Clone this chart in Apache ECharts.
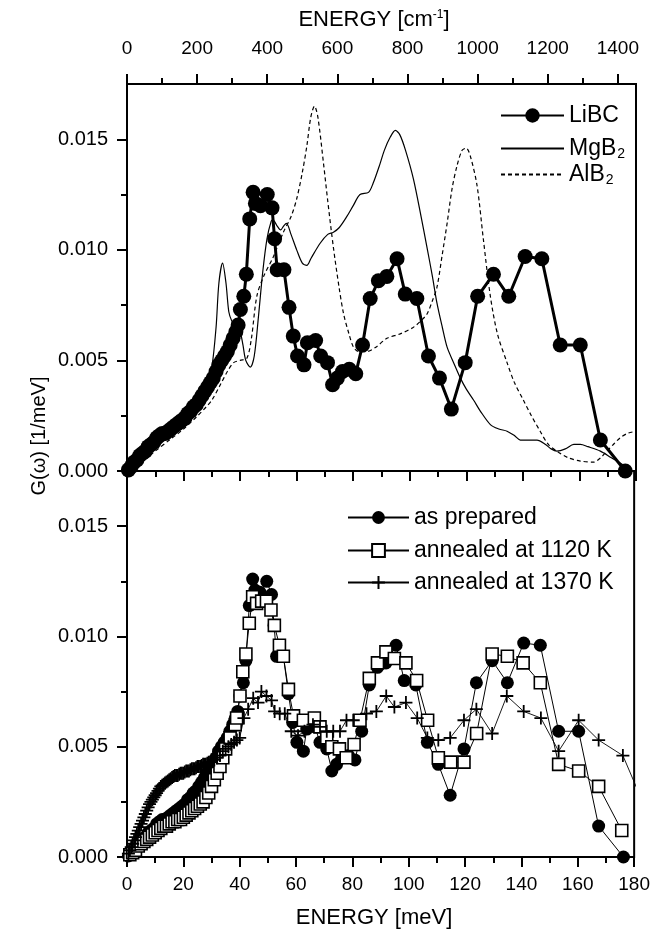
<!DOCTYPE html>
<html><head><meta charset="utf-8">
<script src="https://cdn.jsdelivr.net/npm/echarts@6/dist/echarts.min.js"></script>
<style>html,body{margin:0;padding:0;background:#fff}#c{width:653px;height:931px}</style>
</head><body><div id="c"></div>
<script>
// ---------- data ----------
const libcE = [0.5,1.5,2.5,3.5,4.5,5.5,6.5,7.5,8.5,9.5,10.5,11.5,12.5,13.5,14.5,15.5,16.5,17.5,18.5,19.5,20.5,21.5,22.5,23.5,24.5,25.5,26.5,27.5,28.5,29.5,30.5,31.5,32.5,33.5,34.5,35.5,36.5,37.5,38.5,39.3,40.1,41.3,42.2,43.4,44.6,45.4,47.2,49.6,51.3,52.2,53.1,55.5,57.3,58.8,60.3,62.6,63.8,66.7,68.5,70.9,72.7,74.4,76.2,78.6,80.9,83.3,86.0,88.9,91.9,95.5,98.4,102.5,106.6,110.5,114.7,119.6,124.0,129.6,135.0,140.8,146.7,153.2,160.3,167.4,176.2];
const libcG = [0.00005,0.0002,0.0004,0.0005,0.0007,0.0008,0.0009,0.0011,0.0012,0.0013,0.0015,0.0016,0.0017,0.0017,0.0018,0.0019,0.0020,0.0021,0.0022,0.0023,0.0024,0.0026,0.0027,0.0029,0.0030,0.0032,0.0034,0.0036,0.0038,0.0040,0.0042,0.0045,0.0048,0.0050,0.0052,0.0054,0.0057,0.0060,0.0063,0.0066,0.0073,0.0079,0.0089,0.0114,0.0126,0.0121,0.0120,0.0125,0.0119,0.0105,0.0091,0.0091,0.0074,0.0061,0.0052,0.0048,0.0058,0.0059,0.0052,0.0049,0.0039,0.0042,0.0045,0.0046,0.0044,0.0057,0.0078,0.0086,0.0088,0.0096,0.0080,0.0078,0.0052,0.0042,0.0028,0.0049,0.0079,0.0089,0.0079,0.0097,0.0096,0.0057,0.0057,0.0014,0.0000];

const mgE = [0,2,5,10,15,20,25,28,30,31.5,32.5,33.8,35,36,37,38,39,40,41,42,43.6,45,46.5,48,49.5,51,51.6,53,54.3,55.5,56.4,58,60,62,63.6,65,68.3,71,73,75,77.7,80,82.4,85.4,87,89.5,91,93.1,94.9,96.5,98.5,101.3,104,106.1,108,109.6,111.5,113.2,115.5,117.9,120,122.6,125,128.5,131.5,134.4,137,139.1,142,145,148,150,152,155,158,160.3,163,167.4,171.3,174,176.8,178];
const mgG = [0,0.0002,0.0006,0.0012,0.0018,0.0025,0.0032,0.0038,0.0047,0.0065,0.0085,0.0094,0.0085,0.0072,0.0068,0.0066,0.0064,0.0063,0.0057,0.0050,0.0047,0.0052,0.0070,0.0090,0.0105,0.0113,0.01136,0.0111,0.0109,0.0111,0.0112,0.0107,0.0100,0.0094,0.0093,0.0096,0.0103,0.0107,0.0108,0.0110,0.0115,0.0120,0.0125,0.0126,0.0130,0.0139,0.0145,0.0151,0.0154,0.0152,0.0145,0.0132,0.0115,0.0101,0.0088,0.0076,0.0065,0.0056,0.0049,0.0042,0.0037,0.0032,0.0027,0.0021,0.0019,0.0018,0.0016,0.0014,0.0014,0.0014,0.0012,0.0010,0.0009,0.0010,0.0012,0.0012,0.0011,0.0009,0.0006,0.0004,0.00015,0];

const alE = [0,5,10,15,20,25,28,30,33,35.5,37.7,40,42.4,44,45.9,48.3,51.8,55.3,58,60,62,63.6,65,66.3,67.5,69.5,71,73,75,76.6,78.5,80.1,82,84.8,88,91.9,96.6,101.3,104,106.1,108,109.6,111.5,113.2,115,116.7,118.5,120,121.5,123.8,126,128.5,131,134.4,137,140.2,143,146.1,149,152,156,160.3,165,167.5,169.7,172,174.4,177,180];
const alG = [0,0.0004,0.0009,0.0014,0.0019,0.0025,0.0029,0.0032,0.0039,0.0045,0.0049,0.0050,0.0051,0.0060,0.0079,0.0088,0.0097,0.0108,0.0115,0.0123,0.0135,0.0147,0.0160,0.0165,0.0160,0.0139,0.0122,0.0101,0.0083,0.0071,0.0062,0.0056,0.0054,0.0054,0.0056,0.0060,0.0062,0.0065,0.0068,0.0071,0.0077,0.0083,0.0098,0.0112,0.0128,0.0138,0.0145,0.0146,0.0142,0.0129,0.0105,0.0079,0.0062,0.0049,0.0040,0.0032,0.0025,0.0018,0.0012,0.0009,0.0006,0.00045,0.0004,0.0006,0.0009,0.0012,0.0015,0.0017,0.0018];

const sqE = [1,2,3,4,5,6,7,8,9,10,11,12,13,14,15,16,17,18,19,20,21,22,23,24,25,26,27,28,29,30,31,32,33,34,35,36.6,38.4,38.9,40.1,41.1,42.2,43.4,44.6,46.0,47.8,49.5,51.1,52.3,54.1,55.5,57.3,59.1,62.6,66.5,68.5,70.9,72.7,75.4,77.8,80.6,82.7,86.0,88.9,91.9,94.9,99.0,102.8,106.7,110.5,114.9,119.6,124.1,129.6,135.0,140.6,146.7,153.2,160.3,167.4,175.6];
const sqG = [0.0001,0.0002,0.0003,0.0005,0.0006,0.0007,0.0008,0.0009,0.0010,0.0011,0.0012,0.0013,0.0014,0.0014,0.0015,0.0016,0.0016,0.0017,0.0017,0.0018,0.0019,0.0020,0.0021,0.0022,0.0023,0.0024,0.0025,0.0027,0.0029,0.0032,0.0035,0.0038,0.0041,0.0045,0.0049,0.0054,0.0060,0.0063,0.0073,0.0084,0.0092,0.0106,0.0118,0.0115,0.0116,0.0116,0.0112,0.0105,0.0096,0.0091,0.0076,0.0064,0.0062,0.0063,0.0059,0.0054,0.0050,0.0049,0.0045,0.0051,0.0062,0.0081,0.0088,0.0093,0.0090,0.0088,0.0080,0.0062,0.0045,0.0043,0.0043,0.0056,0.0092,0.0091,0.0088,0.0079,0.0042,0.0039,0.0032,0.0012];

const plE = [0.5,1,1.5,2,2.5,3,3.5,4,4.5,5,5.5,6,6.5,7,7.5,8,8.5,9,9.5,10,10.5,11,11.5,12,12.5,13,13.5,14,14.5,15,15.5,16,16.5,17,17.5,18,18.5,19,19.5,20,20.5,21,21.5,22,22.5,23,23.5,24,24.5,25,25.5,26,26.5,27,27.5,28,28.5,29,29.5,30,31,32,33,34,35,36,37,38,39,40,41.5,43.0,44.8,46.5,47.7,49.5,51.3,52.4,54.2,56.0,58.3,60.7,63.0,66.0,68.5,70.9,73.2,75.6,77.9,80.3,85.0,88.5,92.0,94.9,99.0,103.0,106.6,110.5,114.7,119.6,124.0,129.6,134.8,140.8,146.9,153.2,160.3,167.4,176.0,183];
const plG = [0.00015,0.0003,0.00045,0.0006,0.00075,0.0009,0.00105,0.0012,0.00135,0.0015,0.00165,0.0018,0.00195,0.0021,0.00225,0.0024,0.0025,0.0026,0.0027,0.0028,0.0029,0.0030,0.0031,0.0032,0.00325,0.0033,0.00335,0.0034,0.00345,0.0035,0.00355,0.0036,0.00365,0.0037,0.0037,0.0037,0.00375,0.0038,0.0038,0.0038,0.00385,0.0039,0.0039,0.0039,0.00395,0.0040,0.0040,0.0040,0.00405,0.0041,0.0041,0.0041,0.00415,0.0042,0.0042,0.0042,0.00425,0.0043,0.0043,0.0043,0.0044,0.0045,0.0046,0.0048,0.0049,0.0050,0.0051,0.0052,0.0053,0.0054,0.0063,0.0067,0.0072,0.0070,0.0075,0.0073,0.0071,0.0066,0.0065,0.0065,0.0057,0.0055,0.0057,0.0060,0.0059,0.0057,0.0057,0.0057,0.0062,0.0062,0.0065,0.0066,0.0073,0.0068,0.0070,0.0063,0.0054,0.0053,0.0054,0.0062,0.0067,0.0056,0.0073,0.0066,0.0063,0.0048,0.0062,0.0053,0.0046,0.0025];

// tick positions / labels
const meVMajor = [0,20,40,60,80,100,120,140,160,180];
const meVMinor = [10,30,50,70,90,110,130,150,170];
const cmMajor = [0,200,400,600,800,1000,1200,1400];
const cmMinor = [100,300,500,700,900,1100,1300];
const gMajor = [0,0.005,0.010,0.015];
const gMinor = [0.0025,0.0075,0.0125];
const CM_PER_MEV = 8.0655;

// ---------- chart ----------
const FONT = '"Liberation Sans", Arial, Helvetica, sans-serif';
const zip = (a, b) => a.map((v, i) => [v, b[i]]);
const BLACK = '#000';

function xAx(grid, pos, min, max, ticks, len, showLabel, showLine, margin) {
  return {
    type: 'value', gridIndex: grid, position: pos, min: min, max: max,
    axisLine: { show: showLine, onZero: false, lineStyle: { color: BLACK, width: 2 } },
    axisTick: { show: true, customValues: ticks, length: len, lineStyle: { color: BLACK, width: 2 } },
    axisLabel: showLabel ? { show: true, customValues: ticks, color: BLACK, fontSize: 19, fontFamily: FONT, margin: margin, formatter: v => String(v) } : { show: false },
    splitLine: { show: false }
  };
}
function yAx(grid, ticks, len, showLabel) {
  return {
    type: 'value', gridIndex: grid, position: 'left', min: 0, max: 0.0175,
    axisLine: { show: true, onZero: false, lineStyle: { color: BLACK, width: 2 } },
    axisTick: { show: true, customValues: ticks, length: len, lineStyle: { color: BLACK, width: 2 } },
    axisLabel: showLabel ? { show: true, customValues: ticks, color: BLACK, fontSize: 20, fontFamily: FONT, margin: 19, formatter: v => v.toFixed(3) } : { show: false },
    splitLine: { show: false }
  };
}

const nameRich = {
  n: { fontSize: 23, fontFamily: FONT, color: BLACK },
  s: { fontSize: 14, fontFamily: FONT, color: BLACK, verticalAlign: 'bottom', padding: [12, 0, 0, 1] }
};
const legFmt = name => /2$/.test(name) ? '{n|' + name.slice(0, -1) + '}{s|2}' : '{n|' + name + '}';
function leg(name, left, top, w, h, noSymbol) {
  return {
    data: [noSymbol ? { name: name, itemStyle: { opacity: 0 } } : name],
    orient: 'vertical', left: left, top: top, padding: 0,
    itemWidth: w, itemHeight: h, selectedMode: false,
    formatter: legFmt,
    textStyle: { rich: nameRich, fontSize: 23, fontFamily: FONT, color: BLACK }
  };
}

const plusPath = 'path://M0,5L10,5M5,0L5,10';

const option = {
  animation: false,
  backgroundColor: '#fff',
  textStyle: { fontFamily: FONT, color: BLACK },
  grid: [
    { left: 127, right: 17, top: 84, height: 387, show: true, borderColor: BLACK, borderWidth: 2, backgroundColor: 'transparent' },
    { left: 127, right: 17, top: 471, height: 386, show: true, borderColor: BLACK, borderWidth: 2, backgroundColor: 'transparent' }
  ],
  xAxis: [
    xAx(0, 'bottom', 0, 180, meVMajor, 10, false, true),
    xAx(0, 'bottom', 0, 180, meVMinor, 6, false, false),
    xAx(0, 'top', 0, 180 * CM_PER_MEV, cmMajor, 10, true, true, 26),
    xAx(0, 'top', 0, 180 * CM_PER_MEV, cmMinor, 6, false, false),
    xAx(1, 'bottom', 0, 180, meVMajor, 10, true, true, 18),
    xAx(1, 'bottom', 0, 180, meVMinor, 6, false, false)
  ],
  yAxis: [
    yAx(0, gMajor, 10, true),
    yAx(0, gMinor, 6, false),
    yAx(1, gMajor, 10, true),
    yAx(1, gMinor, 6, false)
  ],
  legend: [
    leg('LiBC', 500, 104, 63, 18),
    leg('MgB2', 500, 137, 63, 18, true),
    leg('AlB2', 500, 163, 63, 18, true),
    leg('as prepared', 347, 506, 61, 16),
    leg('annealed at 1120 K', 347, 539, 61, 16),
    leg('annealed at 1370 K', 347, 571, 61, 16)
  ],
  graphic: [
    { type: 'text', x: 374, y: 20, style: { text: '{n|ENERGY [cm}{s|-1}{n|]}', rich: {
        n: { fontSize: 22, fontFamily: FONT, fill: BLACK },
        s: { fontSize: 12, fontFamily: FONT, fill: BLACK, verticalAlign: 'top' } },
      align: 'center', verticalAlign: 'middle' } },
    { type: 'text', x: 374, y: 918, style: { text: 'ENERGY [meV]', fontSize: 22, fontFamily: FONT, fill: BLACK, align: 'center', verticalAlign: 'middle' } },
    { type: 'text', x: 39, y: 436, rotation: Math.PI / 2, style: { text: 'G(\u03c9) [1/meV]', fontSize: 20, fontFamily: FONT, fill: BLACK, align: 'center', verticalAlign: 'middle' } }
  ],
  series: [
    { name: 'AlB2', type: 'line', xAxisIndex: 0, yAxisIndex: 0, data: zip(alE, alG), showSymbol: false, symbol: 'none', smooth: 0.3,
      lineStyle: { color: BLACK, width: 1.2, type: [4, 3] }, itemStyle: { color: BLACK } },
    { name: 'MgB2', type: 'line', xAxisIndex: 0, yAxisIndex: 0, data: zip(mgE, mgG), showSymbol: false, symbol: 'none', smooth: 0.3,
      lineStyle: { color: BLACK, width: 1.2 }, itemStyle: { color: BLACK } },
    { name: 'LiBC', type: 'line', xAxisIndex: 0, yAxisIndex: 0, data: zip(libcE, libcG), symbol: 'circle', symbolSize: 15,
      lineStyle: { color: BLACK, width: 3 }, itemStyle: { color: BLACK } },
    { name: 'as prepared', type: 'line', xAxisIndex: 4, yAxisIndex: 2, data: zip(libcE, libcG), symbol: 'circle', symbolSize: 13,
      lineStyle: { color: BLACK, width: 1 }, itemStyle: { color: BLACK } },
    { name: 'annealed at 1120 K', type: 'line', xAxisIndex: 4, yAxisIndex: 2, data: zip(sqE, sqG), symbol: 'rect', symbolSize: 12,
      lineStyle: { color: BLACK, width: 1 }, itemStyle: { color: '#fff', borderColor: BLACK, borderWidth: 1.6 } },
    { name: 'annealed at 1370 K', type: 'line', xAxisIndex: 4, yAxisIndex: 2, data: zip(plE, plG), symbol: plusPath, symbolSize: 13,
      lineStyle: { color: BLACK, width: 0.9 }, itemStyle: { color: BLACK, borderColor: BLACK, borderWidth: 1.8 } }
  ]
};
const chart = echarts.init(document.getElementById('c'), null, { renderer: 'canvas' });
chart.setOption(option);
</script>
</body></html>
